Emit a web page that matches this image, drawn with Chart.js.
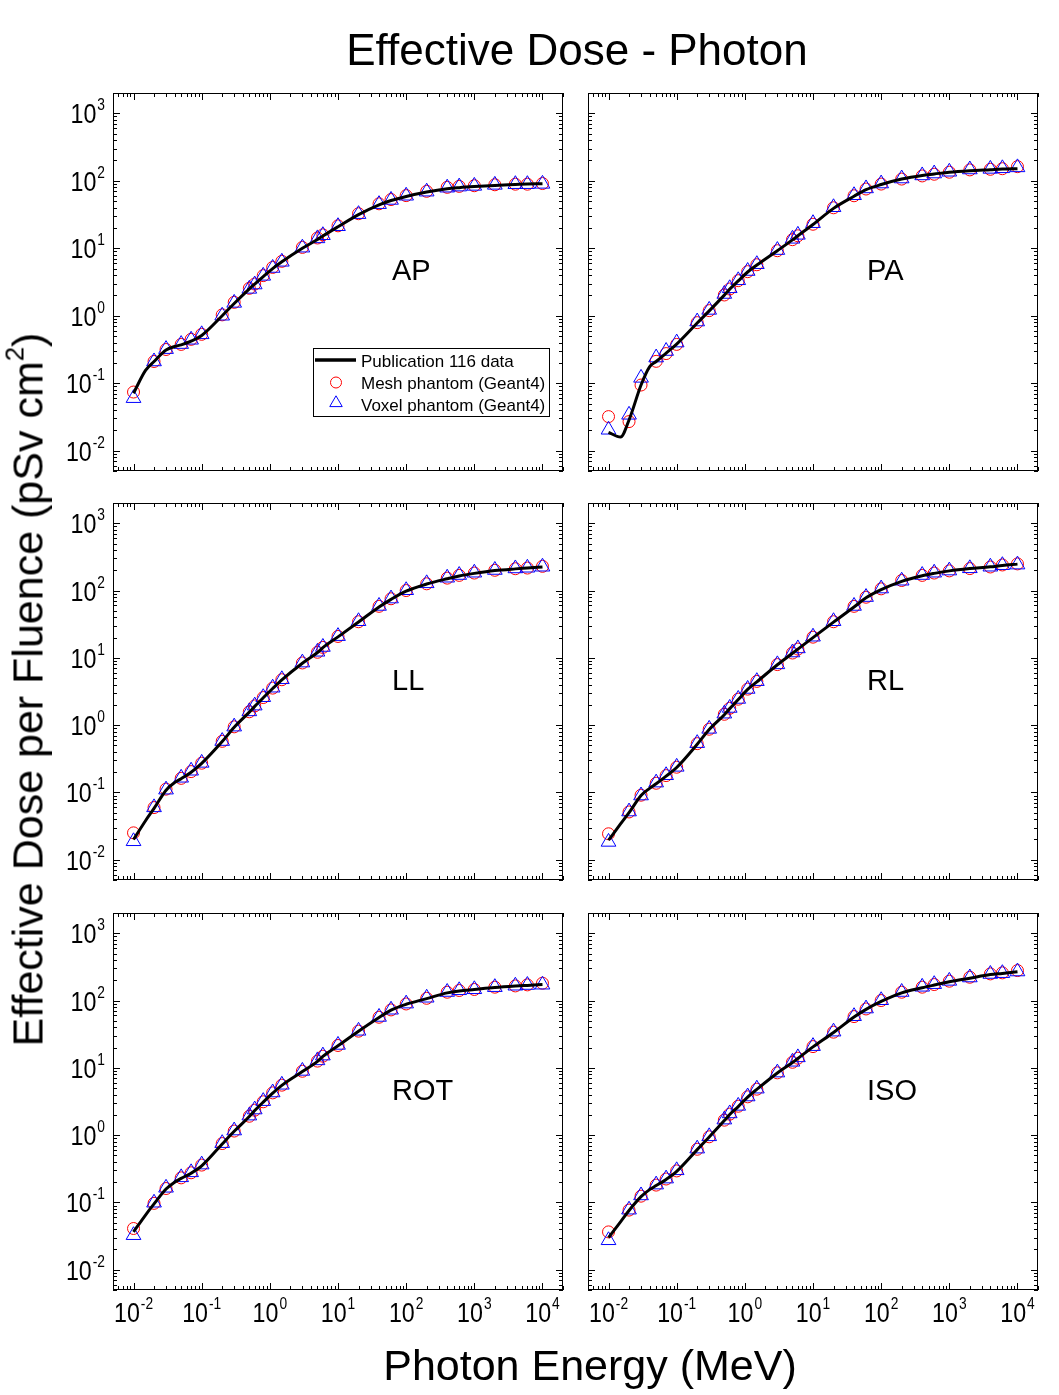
<!DOCTYPE html>
<html>
<head>
<meta charset="utf-8">
<title>Effective Dose - Photon</title>
<script src="https://cdn.jsdelivr.net/npm/chart.js@4.4.0/dist/chart.umd.min.js"></script>
<style>
  body { margin: 0; background: #fff; }
  #page { position: relative; width: 1059px; height: 1395px; overflow: hidden; background: #fff;
          font-family: "Liberation Sans", Arial, sans-serif; color: #000; }
  #page canvas { position: absolute; left: 0; top: 0; }
  .big { position: absolute; line-height: 1; white-space: nowrap; text-align: center; z-index: 2; }
  #main-title { left: 77px; width: 1000px; top: 28px; font-size: 44px; }
  #x-title { left: 90px; width: 1000px; top: 1344px; font-size: 43px; }
  #y-title { left: -422px; top: 668px; width: 900px; height: 43px; font-size: 43px; transform: rotate(-90deg); }
  #y-title sup { font-size: 0.6em; line-height: 0; vertical-align: 0.75em; }
</style>
</head>
<body>
<div id="page">
  <canvas id="c-ap" width="1059" height="1395"></canvas>
  <canvas id="c-pa" width="1059" height="1395"></canvas>
  <canvas id="c-ll" width="1059" height="1395"></canvas>
  <canvas id="c-rl" width="1059" height="1395"></canvas>
  <canvas id="c-rot" width="1059" height="1395"></canvas>
  <canvas id="c-iso" width="1059" height="1395"></canvas>
  <div class="big" id="main-title">Effective Dose - Photon</div>
  <div class="big" id="x-title">Photon Energy (MeV)</div>
  <div class="big" id="y-title">Effective Dose per Fluence (pSv cm<sup>2</sup>)</div>
</div>
<script>
// Energías de los marcadores (MeV)
const energy = [0.01, 0.02, 0.03, 0.05, 0.07, 0.1, 0.2, 0.3, 0.5, 0.6, 0.8, 1.1, 1.5, 3, 5, 6, 10,
  20, 40, 60, 100, 200, 400, 600, 1000, 2000, 4000, 6000, 10000];
// Energías de la curva de la Publicación 116
const pubEnergy = [0.01, 0.015, 0.02, 0.03, 0.04, 0.05, 0.07, 0.1, 0.2, 0.3, 0.5, 0.6, 0.8, 1.1, 1.5, 3, 5, 6, 10,
  20, 40, 60, 100, 200, 400, 600, 1000, 2000, 4000, 6000, 10000];

const xTickExp = [-2, -1, 0, 1, 2, 3, 4];
const yTickExp = [-2, -1, 0, 1, 2, 3];

// AP
const apPub = [0.071, 0.155, 0.21, 0.31, 0.35, 0.37, 0.42, 0.51, 1.0, 1.52, 2.5, 2.95, 3.8, 5.0, 6.3, 10.0, 13.5, 15.2, 20.8,
  31.5, 44, 51, 58.5, 68, 76, 79, 82, 85.5, 88, 89.5, 90.5];
const apMesh = [0.074, 0.21, 0.316, 0.376, 0.447, 0.53, 1.03, 1.58, 2.55, 2.95, 3.93, 5.2, 6.4, 10.3, 14.2, 15.8, 21.5,
  32.5, 45.6, 52.7, 60.3, 69.8, 80, 82.6, 84.5, 87.3, 89, 89, 91];
const apVoxel = [0.060, 0.21, 0.32, 0.38, 0.44, 0.53, 1.0, 1.55, 2.5, 2.9, 3.9, 5.1, 6.3, 10.2, 14.0, 15.6, 21.2,
  32, 45, 52, 60, 69, 79, 82, 84, 87, 89, 89, 90];

// PA
const paPub = [0.0187, 0.0159, 0.0285, 0.094, 0.175, 0.21, 0.28, 0.38, 0.78, 1.18, 2.02, 2.48, 3.28, 4.45, 5.65, 9.2, 13.3, 15.3, 22.5,
  39, 59, 74, 88, 106, 120, 126, 134, 141, 146, 149, 151];
const paMesh = [0.032, 0.027, 0.094, 0.211, 0.275, 0.376, 0.79, 1.19, 2.03, 2.49, 3.31, 4.5, 5.7, 9.2, 13.4, 15.3, 22.7,
  39.8, 60, 75.5, 89.4, 106, 118, 125, 134, 145, 148, 151, 162];
const paVoxel = [0.0204, 0.034, 0.12, 0.24, 0.30, 0.40, 0.82, 1.22, 2.1, 2.55, 3.35, 4.6, 5.8, 9.4, 13.8, 15.8, 23.5,
  40.5, 61, 77, 91, 108, 120, 128, 136, 147, 150, 153, 158];

// LL
const llPub = [0.020, 0.038, 0.058, 0.108, 0.14, 0.16, 0.20, 0.27, 0.57, 0.93, 1.56, 1.9, 2.55, 3.5, 4.7, 8.3, 12, 14.2, 20.5,
  34, 57, 74, 98, 125, 150, 165, 180, 198, 210, 216, 224];
const llMesh = [0.0251, 0.0596, 0.112, 0.162, 0.204, 0.272, 0.575, 0.944, 1.58, 1.93, 2.57, 3.55, 4.73, 8.4, 12.1, 14.3, 20.8,
  34.4, 58.3, 75.5, 100, 126, 153, 168, 182, 200, 211, 216, 229];
const llVoxel = [0.0188, 0.06, 0.11, 0.165, 0.21, 0.275, 0.58, 0.95, 1.6, 1.95, 2.6, 3.6, 4.8, 8.5, 12.3, 14.5, 21,
  35, 59, 76, 101, 128, 155, 170, 184, 202, 213, 218, 226];

// RL
const rlPub = [0.0195, 0.034, 0.05, 0.09, 0.115, 0.135, 0.175, 0.235, 0.52, 0.86, 1.43, 1.76, 2.4, 3.4, 4.4, 7.9, 11.7, 13.5, 20,
  34, 57, 78, 103, 137, 166, 180, 196, 212, 225, 236, 247];
const rlMesh = [0.0243, 0.0513, 0.091, 0.137, 0.178, 0.237, 0.531, 0.87, 1.45, 1.78, 2.43, 3.43, 4.47, 7.94, 11.8, 13.5, 20.3,
  34.4, 58.3, 79.6, 106, 141, 168, 182, 196, 212, 224, 240, 249];
const rlVoxel = [0.0184, 0.052, 0.09, 0.14, 0.18, 0.24, 0.54, 0.88, 1.48, 1.8, 2.45, 3.45, 4.5, 8.0, 12, 13.8, 20.6,
  35, 59, 80, 107, 140, 170, 184, 198, 214, 226, 238, 243];

// ROT
const rotPub = [0.0365, 0.065, 0.095, 0.158, 0.20, 0.228, 0.272, 0.35, 0.74, 1.14, 1.89, 2.32, 3.1, 4.2, 5.5, 8.8, 12.5, 14.8, 21.3,
  35, 56, 72, 88, 107, 130, 139, 146, 156, 164, 168, 173];
const rotMesh = [0.041, 0.097, 0.161, 0.232, 0.276, 0.359, 0.75, 1.15, 1.91, 2.35, 3.13, 4.25, 5.53, 8.9, 12.6, 14.9, 21.5,
  35.1, 56.5, 72.6, 89, 108, 133, 141, 146, 158, 165, 171, 181];
const rotVoxel = [0.0326, 0.099, 0.165, 0.236, 0.28, 0.365, 0.76, 1.17, 1.95, 2.4, 3.2, 4.3, 5.6, 9.0, 12.9, 15.2, 21.9,
  35.5, 57, 73, 90, 110, 134, 142, 147, 158, 166, 170, 172];

// ISO
const isoPub = [0.030, 0.0515, 0.076, 0.122, 0.155, 0.178, 0.22, 0.29, 0.61, 0.94, 1.65, 2.03, 2.66, 3.68, 4.8, 8.4, 12, 13.8, 20.5,
  33.5, 57, 74, 97, 130, 155, 170, 190, 215, 243, 253, 268];
const isoMesh = [0.0365, 0.077, 0.124, 0.181, 0.223, 0.294, 0.617, 0.945, 1.67, 2.05, 2.69, 3.71, 4.82, 8.43, 12.1, 13.9, 20.7,
  33.9, 57.8, 75, 100, 133, 158, 173, 194, 222, 249, 258, 279];
const isoVoxel = [0.0274, 0.078, 0.127, 0.184, 0.226, 0.30, 0.63, 0.96, 1.7, 2.1, 2.72, 3.75, 4.9, 8.5, 12.3, 14.3, 21,
  34.5, 58.5, 76, 101, 134, 160, 175, 196, 220, 248, 255, 270];

const legendLabels = ['Publication 116 data', 'Mesh phantom (Geant4)', 'Voxel phantom (Geant4)'];

// Paneles: nombre, datos y rectángulo del área de trazado
const panels = [
  { id: 'c-ap', name: 'AP', pub: apPub, mesh: apMesh, voxel: apVoxel, box: [113, 93, 563, 471], yLabels: true, xLabels: false, legend: true },
  { id: 'c-pa', name: 'PA', pub: paPub, mesh: paMesh, voxel: paVoxel, box: [588, 93, 1038, 471], yLabels: false, xLabels: false },
  { id: 'c-ll', name: 'LL', pub: llPub, mesh: llMesh, voxel: llVoxel, box: [113, 503, 563, 880], yLabels: true, xLabels: false },
  { id: 'c-rl', name: 'RL', pub: rlPub, mesh: rlMesh, voxel: rlVoxel, box: [588, 503, 1038, 880], yLabels: false, xLabels: false },
  { id: 'c-rot', name: 'ROT', pub: rotPub, mesh: rotMesh, voxel: rotVoxel, box: [113, 913, 563, 1290], yLabels: true, xLabels: true },
  { id: 'c-iso', name: 'ISO', pub: isoPub, mesh: isoMesh, voxel: isoVoxel, box: [588, 913, 1038, 1290], yLabels: false, xLabels: true }
];

const FONT = "'Liberation Sans', Arial, sans-serif";
const SX = 0.86; // etiquetas de ejes algo estrechas

function logTicks(min, max) {
  const major = [], minor = [];
  for (let e = Math.floor(Math.log10(min)); e <= Math.ceil(Math.log10(max)); e++) {
    for (let k = 1; k < 10; k++) {
      const v = k * Math.pow(10, e);
      if (v < min * 0.999 || v > max * 1.001) continue;
      (k === 1 ? major : minor).push(v);
    }
  }
  return { major, minor };
}

// Dibuja "10^exp" con el exponente como superíndice
function drawPow(ctx, exp, x, baseline, align) {
  const baseFont = '27px ' + FONT, expFont = '16px ' + FONT;
  const txt = String(exp).replace('-', '-');
  ctx.font = baseFont;
  const bw = ctx.measureText('10').width * SX;
  ctx.font = expFont;
  const ew = ctx.measureText(txt).width * SX;
  const total = bw + 1 + ew;
  const x0 = align === 'right' ? x - total : x - total / 2;
  ctx.save();
  ctx.translate(x0, baseline); ctx.scale(SX, 1);
  ctx.font = baseFont; ctx.fillText('10', 0, 0);
  ctx.restore();
  ctx.save();
  ctx.translate(x0 + bw + 1, baseline - 13); ctx.scale(SX, 1);
  ctx.font = expFont; ctx.fillText(txt, 0, 0);
  ctx.restore();
}

const frameTicks = {
  id: 'frameTicks',
  afterDatasetsDraw(chart, args, opts) {
    const { ctx, chartArea: a } = chart;
    const xs = chart.scales.x, ys = chart.scales.y;
    ctx.save();
    ctx.strokeStyle = '#000';
    ctx.fillStyle = '#000';
    ctx.lineWidth = 1;
    ctx.strokeRect(a.left + 0.5, a.top + 0.5, a.right - a.left - 1, a.bottom - a.top - 1);

    const xt = logTicks(xs.min, xs.max), yt = logTicks(ys.min, ys.max);
    ctx.beginPath();
    const addX = (vals, len) => vals.forEach(v => {
      const px = Math.round(xs.getPixelForValue(v)) + 0.5;
      ctx.moveTo(px, a.bottom); ctx.lineTo(px, a.bottom - len);
      ctx.moveTo(px, a.top); ctx.lineTo(px, a.top + len);
    });
    const addY = (vals, len) => vals.forEach(v => {
      const py = Math.round(ys.getPixelForValue(v)) + 0.5;
      ctx.moveTo(a.left, py); ctx.lineTo(a.left + len, py);
      ctx.moveTo(a.right, py); ctx.lineTo(a.right - len, py);
    });
    addX(xt.major, 7); addX(xt.minor, 4);
    addY(yt.major, 7); addY(yt.minor, 4);
    ctx.stroke();

    ctx.textBaseline = 'alphabetic';
    ctx.textAlign = 'left';
    if (opts.yLabels) {
      yTickExp.forEach(e => drawPow(ctx, e, a.left - 8, ys.getPixelForValue(Math.pow(10, e)) + 10, 'right'));
    }
    if (opts.xLabels) {
      xTickExp.forEach(e => drawPow(ctx, e, xs.getPixelForValue(Math.pow(10, e)), a.bottom + 32, 'center'));
    }

    // Nombre del panel
    ctx.font = '29px ' + FONT;
    ctx.fillText(opts.name, a.left + 279, a.top + 187);

    if (opts.legend) {
      const lx = a.left + 200, ly = a.top + 255;
      ctx.lineWidth = 1;
      ctx.strokeRect(lx + 0.5, ly + 0.5, 236, 68);
      ctx.beginPath();
      ctx.lineWidth = 3.5;
      ctx.moveTo(lx + 2, ly + 12); ctx.lineTo(lx + 43, ly + 12);
      ctx.stroke();
      ctx.lineWidth = 1;
      ctx.strokeStyle = 'rgb(255,0,0)';
      ctx.beginPath(); ctx.arc(lx + 23, ly + 34.5, 5.5, 0, Math.PI * 2); ctx.stroke();
      ctx.strokeStyle = 'rgb(0,0,255)';
      const tr = 7.2, tx = lx + 23, ty = ly + 55;
      ctx.beginPath();
      ctx.moveTo(tx, ty - tr);
      ctx.lineTo(tx + tr * Math.sin(2 * Math.PI / 3), ty + tr / 2);
      ctx.lineTo(tx - tr * Math.sin(2 * Math.PI / 3), ty + tr / 2);
      ctx.closePath(); ctx.stroke();
      ctx.font = '17px ' + FONT;
      ctx.fillText(legendLabels[0], lx + 48, ly + 18.5);
      ctx.fillText(legendLabels[1], lx + 48, ly + 40.5);
      ctx.fillText(legendLabels[2], lx + 48, ly + 62.5);
    }
    ctx.restore();
  }
};

panels.forEach(p => {
  const [l, t, r, b] = p.box;
  new Chart(document.getElementById(p.id), {
    type: 'scatter',
    data: {
      datasets: [
        {
          label: legendLabels[0],
          data: pubEnergy.map((e, i) => ({ x: e, y: p.pub[i] })),
          showLine: true,
          borderColor: '#000',
          borderWidth: 3,
          pointRadius: 0,
          cubicInterpolationMode: 'monotone',
          order: 0
        },
        {
          label: legendLabels[2],
          data: energy.map((e, i) => ({ x: e, y: p.voxel[i] })),
          pointStyle: 'triangle',
          pointRadius: 8.5,
          borderColor: 'rgb(0,0,255)',
          backgroundColor: 'rgba(0,0,0,0)',
          pointBorderWidth: 1,
          order: 1
        },
        {
          label: legendLabels[1],
          data: energy.map((e, i) => ({ x: e, y: p.mesh[i] })),
          pointStyle: 'circle',
          pointRadius: 6,
          borderColor: 'rgb(255,0,0)',
          backgroundColor: 'rgba(0,0,0,0)',
          pointBorderWidth: 1,
          order: 2
        }
      ]
    },
    options: {
      responsive: false,
      animation: false,
      devicePixelRatio: 1,
      layout: { padding: { left: l, top: t, right: 1059 - r, bottom: 1395 - b } },
      scales: {
        x: { type: 'logarithmic', min: 0.005, max: 20000, display: false },
        y: { type: 'logarithmic', min: 0.005, max: 2000, display: false }
      },
      plugins: {
        legend: { display: false },
        title: { display: false },
        tooltip: { enabled: false },
        frameTicks: { name: p.name, yLabels: p.yLabels, xLabels: p.xLabels, legend: !!p.legend }
      }
    },
    plugins: [frameTicks]
  });
});
</script>
</body>
</html>
